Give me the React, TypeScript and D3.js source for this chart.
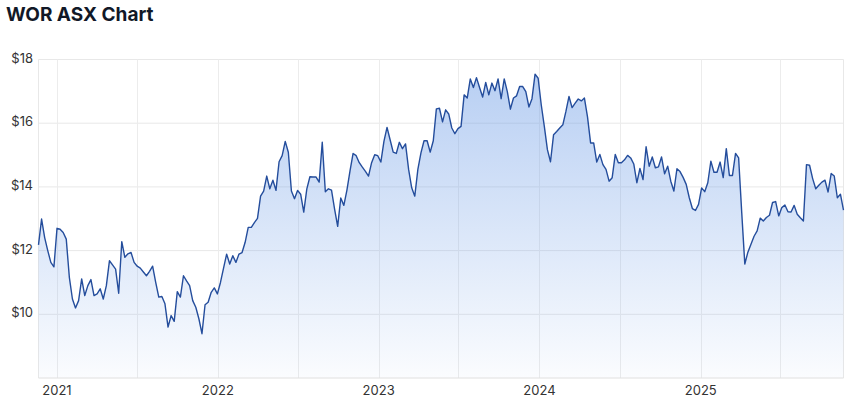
import React from "react";
import * as d3 from "d3";

const TITLE = "WOR ASX Chart";
const START_DATE = "2020-11-20"; // first weekly close
const prices: number[] = [
  12.18, 12.99, 12.41, 12.0, 11.63, 11.49, 12.7, 12.67, 12.57, 12.36,
  11.16, 10.48, 10.2, 10.43, 11.11, 10.59, 10.9, 11.09, 10.59, 10.64,
  10.8, 10.48, 10.9, 11.68, 11.55, 11.42, 10.66, 12.28, 11.79, 11.9,
  11.94, 11.63, 11.51, 11.45, 11.33, 11.21, 11.35, 11.51, 11.0, 10.54,
  10.56, 10.33, 9.6, 9.96, 9.78, 10.71, 10.54, 11.21, 11.05, 10.9,
  10.43, 10.22, 9.86, 9.39, 10.3, 10.38, 10.69, 10.83, 10.64, 11.0,
  11.45, 11.89, 11.58, 11.84, 11.63, 11.89, 11.94, 12.26, 12.73, 12.73,
  12.88, 13.01, 13.71, 13.87, 14.34, 13.94, 14.21, 13.89, 14.79, 14.98,
  15.43, 15.09, 13.87, 13.63, 13.89, 13.77, 13.21, 13.94, 14.32, 14.31,
  14.31, 14.15, 15.4, 13.85, 13.94, 13.9, 13.3, 12.76, 13.65, 13.42,
  13.9, 14.5, 15.05, 14.98, 14.76, 14.62, 14.49, 14.34, 14.76, 15.01,
  14.98, 14.78, 15.43, 15.87, 15.48, 15.09, 15.05, 15.4, 15.2, 15.35,
  14.55, 13.97, 13.71, 14.55, 15.07, 15.45, 15.45, 15.09, 15.45, 16.45,
  16.47, 16.04, 16.42, 16.29, 15.85, 15.67, 15.83, 15.9, 16.89, 16.79,
  17.39, 17.12, 17.43, 17.12, 16.82, 17.28, 16.89, 17.26, 17.02, 17.39,
  16.77, 17.39, 16.99, 16.44, 16.79, 16.86, 17.15, 17.15, 16.99, 16.51,
  16.77, 17.54, 17.41, 16.58, 15.9, 15.17, 14.79, 15.64, 15.74, 15.85,
  15.95, 16.37, 16.84, 16.49, 16.63, 16.76, 16.7, 16.79, 16.2, 15.38,
  15.38, 14.78, 15.02, 14.7, 14.55, 14.18, 14.29, 15.02, 14.76, 14.76,
  14.85, 14.99, 14.91, 14.72, 14.13, 14.58, 14.23, 15.26, 14.65, 14.94,
  14.6, 14.63, 14.94, 14.41, 14.65, 14.18, 13.87, 14.57, 14.48, 14.3,
  14.08, 13.66, 13.32, 13.26, 13.45, 13.97, 13.85, 14.13, 14.81, 14.46,
  14.46, 14.78, 14.29, 15.2, 14.36, 14.36, 15.05, 14.91, 13.2, 11.58,
  11.95, 12.2, 12.45, 12.62, 13.02, 12.93, 13.04, 13.11, 13.51, 13.54,
  13.09, 13.35, 13.43, 13.22, 13.21, 13.42, 13.14, 13.03, 12.93, 14.7,
  14.68, 14.26, 13.94, 14.05, 14.15, 14.21, 13.84, 14.42, 14.34, 13.66,
  13.77, 13.27,
];
const yTicks = [10, 12, 14, 16, 18];
const yDomain = [8, 18];
const yearLabels = [2021, 2022, 2023, 2024, 2025];
const gridMonths = [
  "2021-01-01", "2021-07-01", "2022-01-01", "2022-07-01", "2023-01-01",
  "2023-07-01", "2024-01-01", "2024-07-01", "2025-01-01", "2025-07-01",
];

const W = 855;
const H = 400;
const M = { left: 38.5, right: 11.5, top: 59.5, bottom: 22 };

export default function App() {
  const start = d3.timeParse("%Y-%m-%d")(START_DATE)!;
  const data = prices.map((p, i) => ({ date: d3.timeDay.offset(start, i * 7), price: p }));
  const x = d3
    .scaleTime()
    .domain(d3.extent(data, (d) => d.date) as [Date, Date])
    .range([M.left, W - M.right]);
  const y = d3.scaleLinear().domain(yDomain).range([H - M.bottom, M.top]);
  const line = d3
    .line<{ date: Date; price: number }>()
    .x((d) => x(d.date))
    .y((d) => y(d.price));
  const area = d3
    .area<{ date: Date; price: number }>()
    .x((d) => x(d.date))
    .y0(y(yDomain[0]))
    .y1((d) => y(d.price));
  const parse = d3.timeParse("%Y-%m-%d");
  const font = "Inter, 'Open Sans', sans-serif";
  return (
    <svg
      width={W}
      height={H}
      style={{ position: "absolute", left: 0, top: 0, background: "#fff" }}
    >
      <defs>
        <linearGradient id="fillGrad" x1="0" y1={M.top} x2="0" y2={H - M.bottom} gradientUnits="userSpaceOnUse">
          <stop offset="0" stopColor="#6b9be6" stopOpacity={0.5} />
          <stop offset="1" stopColor="#6b9be6" stopOpacity={0.03} />
        </linearGradient>
      </defs>
      <text x={6} y={21} fontFamily={font} fontWeight={700} fontSize={19} fill="#111827">
        {TITLE}
      </text>
      {yTicks.map((t) => (
        <g key={t}>
          <line x1={M.left} x2={W - M.right} y1={y(t)} y2={y(t)} stroke="#e8e8e8" />
          <text x={33} y={y(t) + 3} textAnchor="end" fontFamily={font} fontSize={13} fill="#333">
            ${t}
          </text>
        </g>
      ))}
      {gridMonths.map((m) => {
        const xx = Math.round(x(parse(m)!)) + 0.5;
        return <line key={m} x1={xx} x2={xx} y1={M.top} y2={H - M.bottom} stroke="#ececec" />;
      })}
      <line x1={M.left} x2={M.left} y1={M.top} y2={H - M.bottom} stroke="#e8e8e8" />
      <line x1={W - M.right} x2={W - M.right} y1={M.top} y2={H - M.bottom} stroke="#e8e8e8" />
      <path d={area(data)!} fill="url(#fillGrad)" />
      <path d={line(data)!} fill="none" stroke="#244d9c" strokeWidth={1.4} strokeLinejoin="round" />
      <line x1={M.left} x2={W - M.right} y1={H - M.bottom} y2={H - M.bottom} stroke="#e0e0e0" />
      {yearLabels.map((yr) => (
        <text
          key={yr}
          x={x(new Date(yr, 0, 1))}
          y={395}
          textAnchor="middle"
          fontFamily={font}
          fontSize={13}
          fill="#333"
        >
          {yr}
        </text>
      ))}
    </svg>
  );
}
